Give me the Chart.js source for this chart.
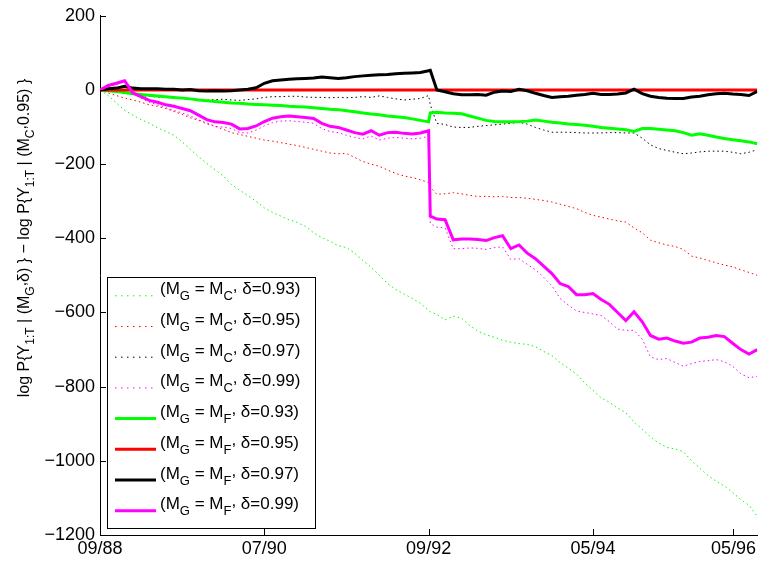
<!DOCTYPE html>
<html><head><meta charset="utf-8">
<script src="https://cdn.jsdelivr.net/npm/chart.js@4"></script>
<style>html,body{margin:0;padding:0;background:#fff}#wrap{width:759px;height:564px;position:relative}</style>
</head><body><div id="wrap"><canvas id="c" width="759" height="564"></canvas></div>
<script>
// x positions (axis index units; one unit per major tick spacing)
const xs = [0,0.05,0.1,0.15,0.2,0.25,0.3,0.35,0.4,0.45,
 0.5,0.55,0.6,0.65,0.7,0.75,0.8,0.85,0.9,0.95,
 1,1.05,1.1,1.15,1.2,1.25,1.3,1.35,1.4,1.45,
 1.5,1.55,1.6,1.65,1.7,1.75,1.8,1.85,1.9,1.95,
 2,2.01,2.05,2.1,2.15,2.2,2.25,2.3,2.35,2.4,
 2.45,2.5,2.55,2.6,2.65,2.7,2.75,2.8,2.85,2.9,
 2.95,3,3.05,3.1,3.15,3.2,3.25,3.3,3.35,3.4,
 3.45,3.5,3.55,3.6,3.65,3.7,3.75,3.8,3.85,3.9,
 3.95,4];
const xTickValues = [0,1,2,3,3.855];
const xTickLabels = ['09/88','07/90','09/92','05/94','05/96'];
const yMin = -1200, yMax = 200, yStep = 200;

// M_G = M_C series (dotted)
const gC = [0,-15,-35,-55,-68,-80,-90,-102,-112,-122,
 -140,-160,-180,-198,-215,-232,-255,-270,-285,-300,
 -318,-330,-340,-350,-357,-368,-385,-398,-408,-420,
 -425,-440,-460,-478,-500,-522,-538,-550,-562,-575,
 -595,-598,-605,-620,-610,-615,-635,-650,-660,-667,
 -675,-680,-684,-686,-692,-705,-716,-735,-750,-766,
 -790,-810,-830,-842,-858,-870,-895,-915,-935,-952,
 -964,-968,-975,-1000,-1020,-1040,-1055,-1068,-1085,-1105,
 -1120,-1150];
const rC = [0,-8,-15,-22,-27,-33,-40,-44,-50,-58,
 -66,-75,-82,-89,-98,-106,-115,-120,-125,-130,
 -135,-138,-142,-146,-150,-155,-160,-165,-170,-172,
 -171,-182,-193,-200,-206,-216,-225,-232,-236,-242,
 -250,-262,-281,-280,-277,-280,-284,-287,-287,-288,
 -287,-290,-290,-292,-295,-298,-302,-308,-314,-320,
 -330,-338,-343,-348,-353,-356,-372,-385,-405,-412,
 -418,-422,-430,-448,-453,-460,-466,-472,-477,-485,
 -492,-500];
const kC = [0,-3,-6,-9,-12,-15,-17,-19,-20,-22,
 -23,-25,-27,-27,-26,-25,-27,-28,-26,-24,
 -20,-18,-18,-17,-17,-19,-20,-20,-21,-20,
 -21,-20,-18,-20,-16,-20,-24,-27,-25,-23,
 -15,-40,-90,-93,-100,-101,-101,-98,-96,-94,
 -92,-90,-87,-92,-101,-108,-114,-114,-114,-115,
 -116,-116,-116,-115,-115,-116,-116,-130,-148,-158,
 -163,-168,-172,-170,-167,-165,-165,-165,-168,-172,
 -168,-161];
const mC = [0,10,15,22,-10,-22,-33,-40,-48,-55,
 -62,-70,-80,-92,-98,-100,-104,-115,-116,-108,
 -97,-88,-84,-83,-85,-87,-90,-104,-112,-115,
 -122,-128,-132,-124,-135,-130,-128,-130,-132,-130,
 -125,-360,-370,-372,-428,-428,-426,-427,-430,-425,
 -423,-457,-455,-470,-485,-505,-528,-562,-580,-596,
 -600,-604,-608,-625,-645,-648,-648,-672,-720,-727,
 -724,-735,-745,-738,-732,-730,-727,-733,-745,-765,
 -776,-772];
// M_G = M_F series (solid)
const gF = [0,-2,-4,-7,-10,-12,-14,-16,-18,-20,
 -22,-24,-27,-29,-31,-33,-35,-36,-38,-39,
 -40,-41,-42,-44,-45,-46,-48,-50,-52,-53,
 -56,-59,-62,-65,-67,-70,-72,-74,-78,-82,
 -86,-62,-60,-62,-63,-64,-70,-76,-82,-85,
 -86,-86,-86,-84,-81,-84,-87,-89,-92,-93,
 -95,-98,-101,-103,-105,-107,-112,-104,-104,-106,
 -108,-110,-115,-122,-118,-122,-127,-131,-134,-137,
 -140,-145];
const rF = [0,0,0,0,0,0,0,0,0,0,
 0,0,0,0,0,0,0,0,0,0,
 0,0,0,0,0,0,0,0,0,0,
 0,0,0,0,0,0,0,0,0,0,
 0,0,0,0,0,0,0,0,0,0,
 0,0,0,0,0,0,0,0,0,0,
 0,0,0,0,0,0,0,0,0,0,
 0,0,0,0,0,0,0,0,0,0,
 0,0];
const kF = [0,3,5,10,5,3,3,3,2,2,
 0,1,-2,-3,-2,-3,-2,0,2,6,
 18,25,27,29,30,31,32,35,33,31,
 33,36,38,40,41,42,44,45,46,47,
 52,53,0,-5,-10,-13,-13,-12,-14,-6,
 -3,-4,2,-2,-9,-15,-20,-18,-17,-14,
 -12,-9,-12,-12,-11,-8,2,-10,-17,-20,
 -22,-23,-23,-19,-17,-13,-10,-9,-11,-12,
 -15,-4];
const mF = [0,12,18,25,-8,-18,-28,-33,-40,-44,
 -50,-56,-68,-80,-86,-88,-92,-105,-104,-97,
 -85,-76,-72,-70,-72,-74,-77,-90,-98,-101,
 -108,-115,-119,-110,-122,-115,-114,-117,-119,-116,
 -110,-340,-348,-350,-404,-402,-402,-403,-406,-398,
 -393,-428,-418,-440,-455,-475,-495,-522,-530,-552,
 -552,-549,-565,-578,-600,-622,-598,-625,-662,-672,
 -669,-677,-683,-680,-669,-667,-662,-665,-683,-700,
 -712,-700];

const seriesNames = ['MC 0.93','MC 0.95','MC 0.97','MC 0.99','MF 0.93','MF 0.95','MF 0.97','MF 0.99'];
const seriesData = [gC, rC, kC, mC, gF, rF, kF, mF];
const seriesColors = ['#00ff00','#ff0000','#000000','#ff00ff','#00ff00','#ff0000','#000000','#ff00ff'];
const seriesDotted = [true,true,true,true,false,false,false,false];
// legend text parts: [text, kind] kind 0 normal, 1 subscript, 2 raised comma
const legendModel = ['C','C','C','C','F','F','F','F'];
const legendDelta = ['0.93','0.95','0.97','0.99','0.93','0.95','0.97','0.99'];
const yTitleParts = [['log P{Y',0],['1:T',1],[' | (M',0],['G',1],[',',2],['\u03b4) } \u2212 log P{Y',0],['1:T',1],[' | (M',0],['C',1],[',',2],['0.95) }',0]];

const FONT = '"Liberation Sans", Arial, Helvetica, sans-serif';

function partsWidth(ctx, parts, mainF, subF){
  let w = 0;
  for (const [t,k] of parts){ ctx.font = k===1?subF:mainF; w += ctx.measureText(t).width; }
  return w;
}
function drawParts(ctx, parts, x, y, mainF, subF, subDy){
  let cx = x;
  for (const [t,k] of parts){
    ctx.font = k===1?subF:mainF;
    const dy = k===1 ? subDy : (k===2 ? -3 : 0);
    ctx.fillText(t, cx, y+dy);
    cx += ctx.measureText(t).width;
  }
}

const overlay = {
  id:'overlay',
  afterDraw(chart){
    const ctx = chart.ctx, ca = chart.chartArea;
    const xs_ = chart.scales.x, ys_ = chart.scales.y;
    ctx.save();
    // inward ticks
    ctx.strokeStyle = '#000'; ctx.lineWidth = 1;
    ctx.beginPath();
    for (let v = yMin; v <= yMax; v += yStep){
      const py = Math.round(ys_.getPixelForValue(v)) + 0.5;
      ctx.moveTo(ca.left, py); ctx.lineTo(ca.left + 6, py);
    }
    for (const v of xTickValues){
      const px = Math.round(xs_.getPixelForValue(v)) + 0.5;
      ctx.moveTo(px, ca.bottom); ctx.lineTo(px, ca.bottom - 6);
    }
    ctx.stroke();
    // legend box
    const bx = 107.5, by = 277.5, bw = 208, bh = 251;
    ctx.fillStyle = '#fff'; ctx.fillRect(bx, by, bw, bh);
    ctx.strokeStyle = '#000'; ctx.lineWidth = 1; ctx.strokeRect(bx, by, bw, bh);
    ctx.textBaseline = 'alphabetic'; ctx.textAlign = 'left';
    const LM = '17px ' + FONT, LS = '13px ' + FONT;
    for (let i = 0; i < 8; i++){
      const base = 294.3 + i*30.7;
      ctx.beginPath();
      ctx.strokeStyle = seriesColors[i];
      if (seriesDotted[i]){ ctx.lineWidth = 1; ctx.setLineDash([1.5,4.5]); }
      else { ctx.lineWidth = 3; ctx.setLineDash([]); }
      ctx.moveTo(115, base + 1.5); ctx.lineTo(156, base + 1.5);
      ctx.stroke();
      ctx.setLineDash([]);
      ctx.fillStyle = '#000';
      drawParts(ctx, [['(M',0],['G',1],[' = M',0],[legendModel[i],1],[',',2],[' \u03b4=' + legendDelta[i] + ')',0]], 160, base, LM, LS, 6);
    }
    // y axis title
    const TM = '16px ' + FONT, TS = '12px ' + FONT;
    ctx.fillStyle = '#000';
    ctx.translate(29, 238);
    ctx.rotate(-Math.PI/2);
    const w = partsWidth(ctx, yTitleParts, TM, TS);
    drawParts(ctx, yTitleParts, -w/2, 0, TM, TS, 5);
    ctx.restore();
  }
};

const datasets = seriesData.map((arr, i) => ({
  label: seriesNames[i],
  data: xs.map((x, j) => ({x: x, y: arr[j]})),
  borderColor: seriesColors[i],
  backgroundColor: seriesColors[i],
  borderWidth: seriesDotted[i] ? 1 : 3,
  borderDash: seriesDotted[i] ? [1.5, 3] : [],
  pointRadius: 0,
  tension: 0,
  fill: false,
  order: 8 - i
}));

new Chart(document.getElementById('c'), {
  type: 'line',
  data: { datasets },
  options: {
    responsive: false,
    animation: false,
    events: [],
    layout: { padding: { top: 12, right: 1, left: 0, bottom: 0 } },
    plugins: { legend: { display: false }, tooltip: { enabled: false } },
    scales: {
      x: {
        type: 'linear', min: 0, max: 4,
        afterBuildTicks: s => { s.ticks = xTickValues.map(v => ({value: v})); },
        afterFit: s => { s.height = 29; },
        ticks: { callback: (v, i) => xTickLabels[i], font: { family: FONT, size: 18 }, color: '#000', padding: 3, maxRotation: 0, autoSkip: false },
        grid: { display: false, drawTicks: false },
        border: { display: true, color: '#000', width: 1 }
      },
      y: {
        min: yMin, max: yMax,
        afterFit: s => { s.width = 100; },
        ticks: { stepSize: yStep, callback: v => (v < 0 ? '\u2212' : '') + Math.abs(v), font: { family: FONT, size: 18 }, color: '#000', padding: 5 },
        grid: { display: false, drawTicks: false },
        border: { display: true, color: '#000', width: 1 }
      }
    }
  },
  plugins: [overlay]
});
</script>
</body></html>
